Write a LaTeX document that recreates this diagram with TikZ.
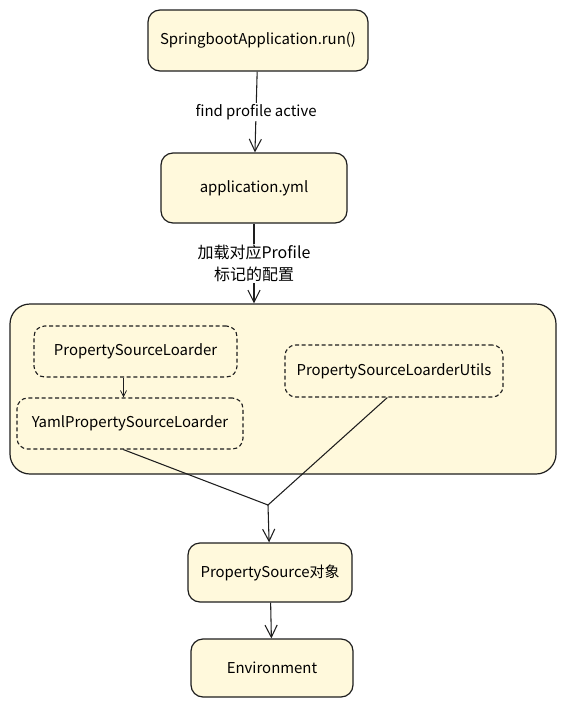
\documentclass[tikz,border=0pt]{standalone}
\usepackage{fontspec}
\setmainfont{Noto Sans CJK SC}
\usetikzlibrary{arrows.meta,positioning,calc}
\definecolor{SketchYellow}{RGB}{255,249,220}
\definecolor{SketchInk}{RGB}{30,30,30}

\begin{document}
\begin{tikzpicture}[x=0.75pt,y=-0.75pt,font=\fontsize{11.2}{13}\selectfont,
    every node/.style={align=center},
    box/.style={draw=SketchInk,line width=0.9pt,fill=SketchYellow,rounded corners=9pt},
    dbox/.style={box,dash pattern=on 3pt off 2pt,line width=0.85pt,rounded corners=8pt},
    arr/.style={-{Straight Barb[length=3.2mm,width=3.2mm]},draw=SketchInk,line width=0.8pt},
    lbl/.style={fill=white,inner sep=1pt}]
      \useasboundingbox (0,0) rectangle (567,707);

      \node[box,minimum width=165pt,minimum height=45.75pt] (spring) at (258,40.5) {SpringbootApplication.run()};
      \node[box,minimum width=139.5pt,minimum height=52.5pt] (app) at (254,188) {application.yml};

      % loader group
      \node[box,rounded corners=15pt,minimum width=409.5pt,minimum height=127.5pt] (group) at (283,389) {};
      \node[dbox,minimum width=152.25pt,minimum height=38.25pt] (psl) at (135.5,351.5) {PropertySourceLoarder};
      \node[dbox,minimum width=169.5pt,minimum height=38.25pt] (yaml) at (130,423.5) {YamlPropertySourceLoarder};
      \node[dbox,minimum width=163.5pt,minimum height=39pt] (utils) at (394,371) {PropertySourceLoarderUtils};

      \node[box,minimum width=123pt,minimum height=44.25pt] (ps) at (270,572.5) {PropertySource对象};
      \node[box,minimum width=121.5pt,minimum height=43.5pt] (env) at (272,668) {Environment};

      \coordinate (merge) at (268,505);

      \draw[arr] (spring) -- node[lbl] {find profile active} (app);
      \draw[arr] (app) -- node[lbl,font=\fontsize{12}{16}\selectfont] {加载对应Profile\\标记的配置} (group.north -| app);
      \draw[arr,-{Straight Barb[length=1.6mm,width=1.6mm]},line width=0.6pt] ([xshift=-9pt]psl.south) -- ([xshift=-9pt]psl.south |- yaml.north);
      \draw[SketchInk,line width=0.8pt] ([xshift=-5pt]yaml.south) -- (merge);
      \draw[SketchInk,line width=0.8pt] ([xshift=-5pt]utils.south) -- (merge);
      \draw[arr] (merge) -- (ps);
      \draw[arr] (ps) -- (env);
    \end{tikzpicture}
\end{document}
